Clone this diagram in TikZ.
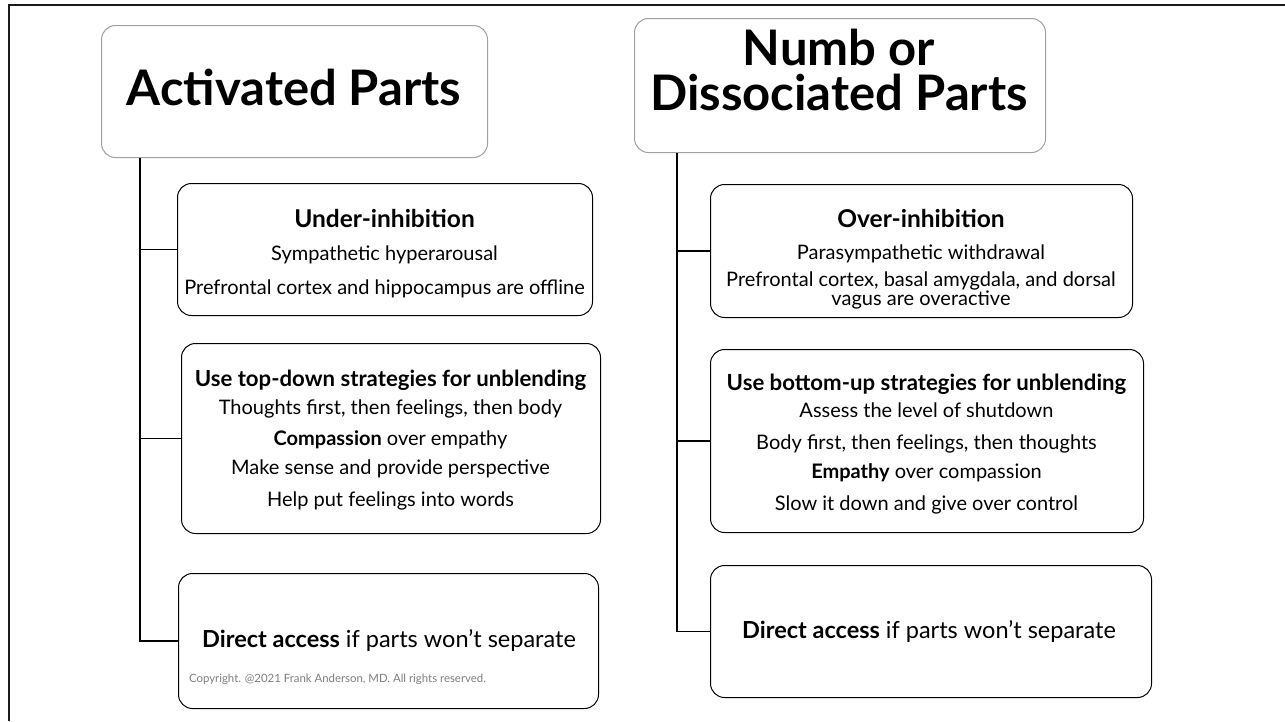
\documentclass[tikz,border=0pt]{standalone}
\usepackage{fontspec}
\setmainfont{Lato}
\definecolor{titleedge}{HTML}{A0A0A0}
\definecolor{frameink}{HTML}{1A1A1A}
\definecolor{copyink}{HTML}{7F7F7F}
\begin{document}
\begin{tikzpicture}[x=1pt,y=-1pt,
  titlebox/.style={draw=titleedge, line width=1pt, rounded corners=14pt, fill=white, inner sep=0pt, anchor=north west},
  itembox/.style={draw=black, line width=1pt, rounded corners=14pt, fill=white, inner sep=0pt, anchor=north west},
  link/.style={draw=black, line width=1.2pt},
  frameline/.style={draw=frameink, line width=2.6pt},
  titletext/.style={align=center, inner sep=0pt, font=\bfseries\fontsize{49}{45}\selectfont},
  body/.style={align=center, inner sep=0pt, font=\fontsize{20}{18}\selectfont},
  big/.style={inner sep=0pt, anchor=base, font=\fontsize{23.5}{22}\selectfont},
  copynote/.style={inner sep=0pt, anchor=base, text=copyink, font=\fontsize{11.4}{12}\selectfont}]
\newcommand{\headA}[1]{{\bfseries\fontsize{24.5}{18}\selectfont #1}}
\newcommand{\headB}[1]{{\bfseries\fontsize{22.2}{18}\selectfont #1}}
\useasboundingbox (0,0) rectangle (1285,721);
\fill[white] (0,0) rectangle (1285,721);
% slide frame
\draw[frameline] (9,721) -- (9,5) -- (1285,5);

% boxes
\node[titlebox, minimum width=386pt, minimum height=132pt] (t1) at (101,25) {};
\node[titlebox, minimum width=411pt, minimum height=134pt] (t2) at (634,18) {};
\node[itembox, minimum width=415pt, minimum height=132pt] (b1) at (177,183) {};
\node[itembox, minimum width=422pt, minimum height=133pt] (b2) at (710,184) {};
\node[itembox, minimum width=419pt, minimum height=190pt] (b3) at (181,343) {};
\node[itembox, minimum width=433pt, minimum height=183pt] (b4) at (710,349) {};
\node[itembox, minimum width=420pt, minimum height=135pt] (b5) at (178,573) {};
\node[itembox, minimum width=441pt, minimum height=132pt] (b6) at (710,565) {};

% connectors
\coordinate (j1) at ([xshift=39pt]t1.south west);
\coordinate (j2) at ([xshift=43pt]t2.south west);
\draw[link] (j1) |- (b5.west);
\draw[link] (j1) |- (b1.west);
\draw[link] (j1) |- (b3.west);
\draw[link] (j2) |- (b6.west);
\draw[link] (j2) |- (b2.west);
\draw[link] (j2) |- (b4.west);

% titles
\node[titletext, anchor=base] (t1t) at (294,105) {Activated Parts};
\node[titletext] (t2t) at (839,70) {Numb or\\Dissociated Parts};

% left column texts
\node[body] (b1t) at (384.5,253.5) {\headA{Under-inhibition}\\[15pt]Sympathetic hyperarousal\\[15pt]Prefrontal cortex and hippocampus are offline};
\node[body] (b3t) at (390.5,440) {\headB{Use top-down strategies for unblending}\\[9pt]Thoughts first, then feelings, then body\\[11pt]{\bfseries Compassion} over empathy\\[10pt]Make sense and provide perspective\\[13pt]Help put feelings into words};
\node[big] (b5t) at (389,647.5) {{\bfseries Direct access} if parts won’t separate};
\node[copynote] (cpy) at (337.5,682) {Copyright. @2021 Frank Anderson, MD. All rights reserved.};

% right column texts
\node[body] (b2t) at (921,259) {\headA{Over-inhibition}\\[14pt]Parasympathetic withdrawal\\[8pt]Prefrontal cortex, basal amygdala, and dorsal\\vagus are overactive};
\node[body] (b4t) at (926.5,444) {\headB{Use bottom-up strategies for unblending}\\[7pt]Assess the level of shutdown\\[14pt]Body first, then feelings, then thoughts\\[10pt]{\bfseries Empathy} over compassion\\[12pt]Slow it down and give over control};
\node[big] (b6t) at (929,638.5) {{\bfseries Direct access} if parts won’t separate};
\end{tikzpicture}
\end{document}
